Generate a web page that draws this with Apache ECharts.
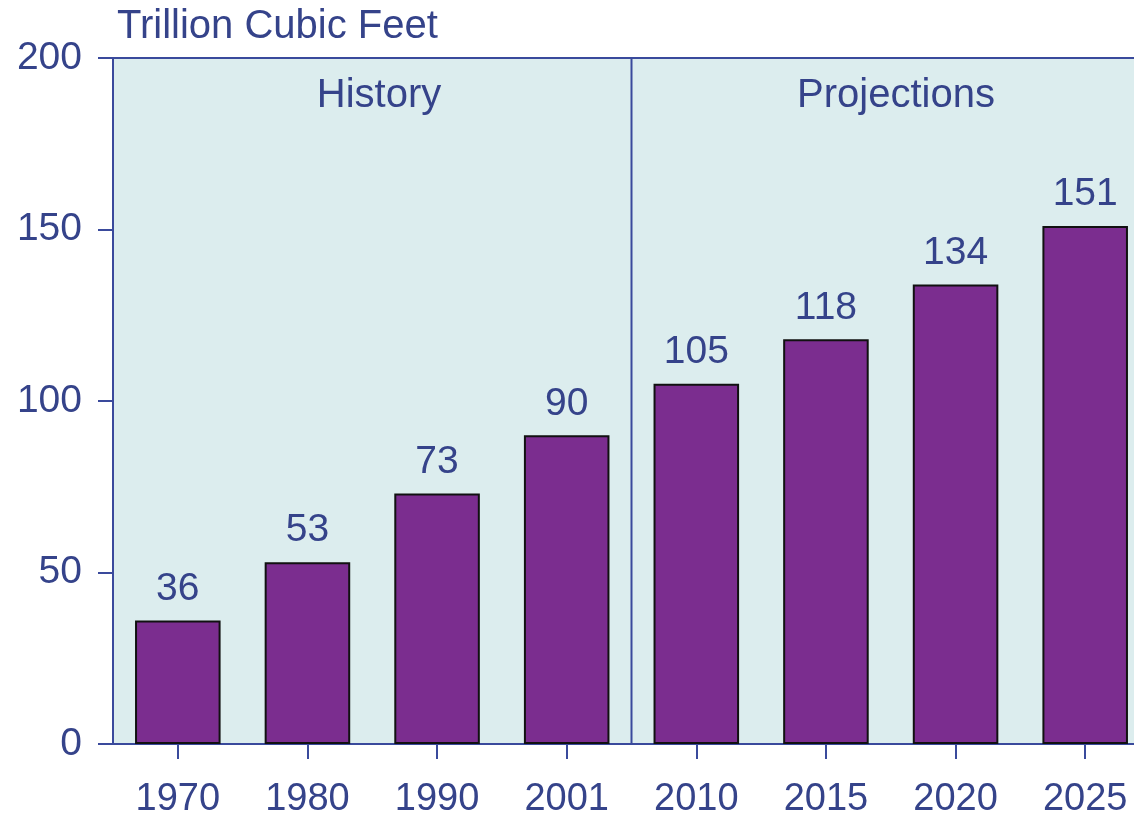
<!DOCTYPE html>
<html><head><meta charset="utf-8">
<script src="https://cdn.jsdelivr.net/npm/echarts@6/dist/echarts.min.js"></script>
<style>html,body{margin:0;padding:0;background:#fff}#c{width:1134px;height:814px}</style>
</head><body><div id="c"></div>
<script>
const categories = ['1970','1980','1990','2001','2010','2015','2020','2025'];
const values = [36, 53, 73, 90, 105, 118, 134, 151];
const yTicks = [0, 50, 100, 150, 200];
const unitLabel = 'Trillion Cubic Feet';
const sectionLabels = ['History', 'Projections'];
const historyCount = 4;

const textColor = '#35438a';
const lineColor = '#3a4a9c';
const font = 'Arial, "Liberation Sans", sans-serif';
const chart = echarts.init(document.getElementById('c'));
const baseGraphic = [
  {type: 'text', x: 117, y: 27, style: {text: unitLabel, fill: textColor, font: '40px ' + font, textVerticalAlign: 'middle'}},
  {type: 'text', x: 379, y: 96, style: {text: sectionLabels[0], fill: textColor, font: '40px ' + font, textAlign: 'center', textVerticalAlign: 'middle'}},
  {type: 'text', x: 896, y: 96, style: {text: sectionLabels[1], fill: textColor, font: '40px ' + font, textAlign: 'center', textVerticalAlign: 'middle'}}
];
chart.setOption({
  backgroundColor: '#ffffff',
  animation: false,
  grid: {left: 113, top: 58, height: 686, width: 1037, outerBoundsMode: 'none', containLabel: false, show: true,
         backgroundColor: '#dcedee', borderColor: lineColor, borderWidth: 2},
  graphic: baseGraphic,
  xAxis: {
    type: 'category', data: categories, boundaryGap: true,
    axisLine: {show: true, lineStyle: {color: lineColor, width: 2}},
    axisTick: {show: true, alignWithLabel: true, length: 15, lineStyle: {color: lineColor, width: 2}},
    axisLabel: {color: textColor, fontSize: 38, fontFamily: font, margin: 37},
    splitLine: {show: false}
  },
  yAxis: {
    type: 'value', min: yTicks[0], max: yTicks[yTicks.length-1], interval: 50,
    axisLine: {show: true, lineStyle: {color: lineColor, width: 2}},
    axisTick: {show: true, length: 15, lineStyle: {color: lineColor, width: 2}},
    axisLabel: {color: textColor, fontSize: 39, fontFamily: font, margin: 31},
    splitLine: {show: false}
  },
  series: [{
    type: 'bar', data: values, barWidth: '66%',
    itemStyle: {color: '#7b2d8f', borderColor: '#111', borderWidth: 2},
    label: {show: true, position: 'top', distance: 12, color: textColor, fontSize: 39, fontFamily: font}
  }]
});
// divider between history and projections, at the category boundary
const xa = chart.convertToPixel({xAxisIndex: 0}, historyCount - 1);
const xb = chart.convertToPixel({xAxisIndex: 0}, historyCount);
const yTop = chart.convertToPixel({yAxisIndex: 0}, yTicks[yTicks.length-1]);
const yBot = chart.convertToPixel({yAxisIndex: 0}, yTicks[0]);
const xd = (xa + xb) / 2;
chart.setOption({graphic: baseGraphic.concat([
  {type: 'line', shape: {x1: xd, y1: yTop, x2: xd, y2: yBot}, style: {stroke: lineColor, lineWidth: 2}, z: 1}
])}, {replaceMerge: ['graphic']});
</script></body></html>
